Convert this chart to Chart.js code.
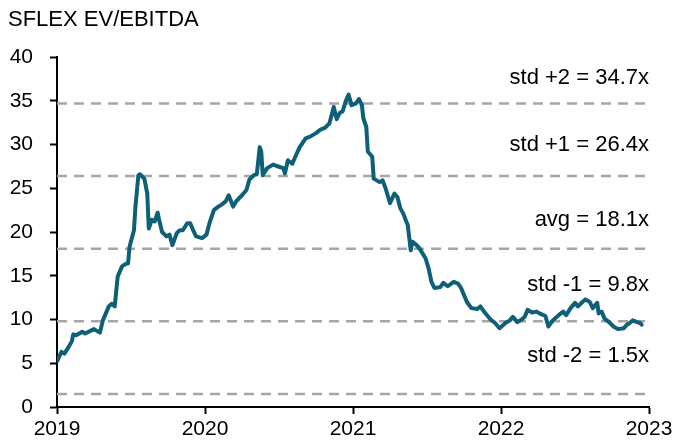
<!DOCTYPE html>
<html>
<head>
<meta charset="utf-8">
<script src="https://cdn.jsdelivr.net/npm/chart.js@4/dist/chart.umd.min.js"></script>
<style>
  html, body { margin: 0; padding: 0; background: #fff; }
  #wrap { width: 686px; height: 441px; }
</style>
</head>
<body>
<div id="wrap"><canvas id="evChart" width="686" height="441"></canvas></div>
<script>
const chartTitle = 'SFLEX EV/EBITDA';

// time in decimal years
const dateYears = [
  2019.00, 2019.03, 2019.05, 2019.08, 2019.10, 2019.11, 2019.13, 2019.17, 2019.19, 2019.25,
  2019.29, 2019.31, 2019.35, 2019.37, 2019.39, 2019.41, 2019.44, 2019.47, 2019.48, 2019.49,
  2019.52, 2019.53, 2019.55, 2019.56, 2019.59, 2019.61, 2019.62, 2019.64, 2019.66, 2019.68,
  2019.69, 2019.71, 2019.74, 2019.76, 2019.78, 2019.81, 2019.83, 2019.85, 2019.88, 2019.90,
  2019.92, 2019.94, 2019.98, 2020.01, 2020.03, 2020.06, 2020.09, 2020.11, 2020.14, 2020.16,
  2020.19, 2020.21, 2020.25, 2020.28, 2020.30, 2020.33, 2020.35, 2020.37, 2020.38, 2020.39,
  2020.42, 2020.46, 2020.51, 2020.53, 2020.54, 2020.56, 2020.59, 2020.61, 2020.64, 2020.68,
  2020.71, 2020.73, 2020.75, 2020.78, 2020.81, 2020.84, 2020.85, 2020.87, 2020.89, 2020.91,
  2020.93, 2020.95, 2020.97, 2020.99, 2021.02, 2021.04, 2021.06, 2021.07, 2021.09, 2021.10,
  2021.13, 2021.14, 2021.16, 2021.18, 2021.20, 2021.22, 2021.25, 2021.28, 2021.30, 2021.32,
  2021.34, 2021.36, 2021.37, 2021.39, 2021.40, 2021.43, 2021.45, 2021.49, 2021.51, 2021.53,
  2021.55, 2021.59, 2021.61, 2021.64, 2021.68, 2021.71, 2021.73, 2021.77, 2021.80, 2021.84,
  2021.86, 2021.89, 2021.93, 2021.96, 2021.99, 2022.03, 2022.06, 2022.08, 2022.11, 2022.14,
  2022.16, 2022.18, 2022.21, 2022.24, 2022.26, 2022.30, 2022.32, 2022.35, 2022.39, 2022.42,
  2022.44, 2022.47, 2022.49, 2022.50, 2022.52, 2022.55, 2022.57, 2022.60, 2022.62, 2022.65,
  2022.66, 2022.68, 2022.70, 2022.73, 2022.76, 2022.79, 2022.83, 2022.85, 2022.87, 2022.89,
  2022.92, 2022.94, 2022.95
];

const evEbitda = [
  5.2, 6.3, 6.1, 6.9, 7.5, 8.3, 8.2, 8.6, 8.4, 8.9,
  8.5, 9.9, 11.5, 11.8, 11.5, 14.9, 16.1, 16.4, 16.4, 18.3,
  20.2, 22.9, 26.5, 26.6, 26.1, 24.4, 20.4, 21.4, 21.2, 22.2,
  21.4, 20.0, 19.5, 19.7, 18.5, 19.9, 20.2, 20.2, 21.0, 21.0,
  20.2, 19.5, 19.3, 19.7, 21.0, 22.5, 22.9, 23.1, 23.5, 24.2,
  22.9, 23.5, 24.2, 24.8, 26.0, 26.5, 26.6, 29.7, 29.2, 26.5,
  27.3, 27.7, 27.4, 27.3, 26.7, 28.2, 27.8, 28.6, 29.7, 30.7,
  30.9, 31.1, 31.3, 31.7, 31.9, 32.4, 33.0, 34.3, 32.9, 33.6,
  33.8, 34.9, 35.7, 34.5, 34.7, 35.2, 34.5, 33.0, 32.0, 29.2,
  28.6, 26.1, 25.9, 25.7, 25.9, 25.0, 23.3, 24.4, 24.0, 22.7,
  22.1, 21.2, 20.8, 17.9, 18.9, 18.5, 18.1, 17.0, 15.9, 14.3,
  13.6, 13.7, 14.2, 13.8, 14.3, 14.1, 13.6, 12.0, 11.3, 11.2,
  11.5, 10.8, 10.0, 9.6, 9.0, 9.6, 9.9, 10.3, 9.7, 10.0,
  10.3, 11.1, 10.8, 10.9, 10.7, 10.4, 9.2, 9.9, 10.5, 10.9,
  10.5, 11.3, 11.7, 11.9, 11.5, 12.0, 12.3, 12.0, 11.3, 11.9,
  10.7, 10.9, 10.1, 9.7, 9.2, 8.9, 9.0, 9.4, 9.6, 9.9,
  9.7, 9.6, 9.4
];

// reference levels and their labels
const bandNames = ['std +2', 'std +1', 'avg', 'std -1', 'std -2'];
const bandLevels = [34.7, 26.4, 18.1, 9.8, 1.5];

const xTicks = [2019, 2020, 2021, 2022, 2023];
const yTicks = [0, 5, 10, 15, 20, 25, 30, 35, 40];

const FONT = 'Liberation Sans, Arial, sans-serif';
const lineColor = '#0e5f78';
const dashColor = '#a6a6a6';

const linePoints = dateYears.map((t, i) => ({ x: t, y: evEbitda[i] }));

const bandSets = bandLevels.map((lvl) => ({
    data: [{ x: xTicks[0], y: lvl }, { x: xTicks[xTicks.length - 1] + 0.02, y: lvl }],
    borderColor: dashColor,
    borderWidth: 2.5,
    borderDash: [10, 7],
    pointRadius: 0,
    clip: false,
    order: 2
}));

// text drawn on top: title + band labels
const textPlugin = {
    id: 'bandText',
    afterDraw: (chart) => {
        const { ctx } = chart;
        const y = chart.scales.y;
        const lift = [25, 31, 29, 36, 38];
        ctx.save();
        ctx.fillStyle = '#000';
        ctx.font = '22px ' + FONT;
        ctx.textBaseline = 'middle';
        ctx.textAlign = 'left';
        ctx.fillText(chartTitle, 8, 20);
        ctx.textAlign = 'right';
        bandLevels.forEach((lvl, i) => {
            ctx.fillText(`${bandNames[i]} = ${lvl.toFixed(1)}x`, 649, y.getPixelForValue(lvl) - lift[i]);
        });
        ctx.restore();
    }
};

new Chart(document.getElementById('evChart'), {
    type: 'line',
    data: {
        datasets: [{
            data: linePoints,
            borderColor: lineColor,
            borderWidth: 4,
            borderJoinStyle: 'round',
            borderCapStyle: 'round',
            pointRadius: 0,
            tension: 0,
            order: 1
        }, ...bandSets]
    },
    options: {
        responsive: false,
        animation: false,
        devicePixelRatio: 1,
        layout: { padding: { top: 57, right: 37, left: 0, bottom: 0 } },
        plugins: { legend: { display: false }, tooltip: { enabled: false }, title: { display: false } },
        scales: {
            x: {
                type: 'linear',
                min: xTicks[0],
                max: xTicks[xTicks.length - 1],
                afterBuildTicks: (s) => { s.ticks = xTicks.map((v) => ({ value: v })); },
                afterFit: (s) => { s.height = 34; },
                grid: { drawOnChartArea: false, drawTicks: true, tickLength: 7, tickColor: '#000', tickWidth: 2 },
                border: { display: true, color: '#000', width: 2 },
                ticks: {
                    color: '#000', font: { family: FONT, size: 21 }, padding: 3, maxRotation: 0,
                    callback: (v) => String(v)
                }
            },
            y: {
                min: yTicks[0],
                max: yTicks[yTicks.length - 1],
                afterBuildTicks: (s) => { s.ticks = yTicks.map((v) => ({ value: v })); },
                afterFit: (s) => { s.width = 57; },
                grid: { drawOnChartArea: false, drawTicks: true, tickLength: 7, tickColor: '#000', tickWidth: 2 },
                border: { display: true, color: '#000', width: 2 },
                ticks: { color: '#000', font: { family: FONT, size: 21 }, padding: 17 }
            }
        }
    },
    plugins: [textPlugin]
});
</script>
</body>
</html>
